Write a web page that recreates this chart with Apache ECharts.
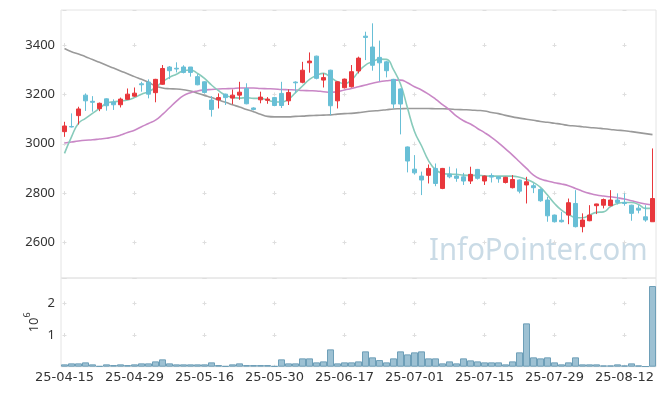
<!DOCTYPE html>
<html><head><meta charset="utf-8">
<script src="https://cdn.jsdelivr.net/npm/echarts@6/dist/echarts.min.js"></script>
<style>html,body{margin:0;padding:0;background:#fff}#c{width:665px;height:396px}</style>
</head><body><div id="c"></div>
<script>
const dates = ['25-04-15','25-04-16','25-04-17','25-04-18','25-04-21','25-04-22','25-04-23','25-04-24','25-04-25','25-04-28',
'25-04-29','25-04-30','25-05-02','25-05-07','25-05-08','25-05-09','25-05-12','25-05-13','25-05-14','25-05-15',
'25-05-16','25-05-19','25-05-20','25-05-21','25-05-22','25-05-23','25-05-26','25-05-27','25-05-28','25-05-29',
'25-05-30','25-06-02','25-06-04','25-06-05','25-06-09','25-06-10','25-06-11','25-06-12','25-06-13','25-06-16',
'25-06-17','25-06-18','25-06-19','25-06-20','25-06-23','25-06-24','25-06-25','25-06-26','25-06-27','25-06-30',
'25-07-01','25-07-02','25-07-03','25-07-04','25-07-07','25-07-08','25-07-09','25-07-10','25-07-11','25-07-14',
'25-07-15','25-07-16','25-07-17','25-07-18','25-07-21','25-07-22','25-07-23','25-07-24','25-07-25','25-07-28',
'25-07-29','25-07-30','25-07-31','25-08-01','25-08-04','25-08-05','25-08-06','25-08-07','25-08-08','25-08-11',
'25-08-12','25-08-13','25-08-14','25-08-18','25-08-19'];

const opens = [3049,3070,3114,3197,3172,3142,3182,3169,3158,3180,
3193,3243,3250,3207,3241,3311,3306,3311,3311,3272,
3251,3177,3178,3201,3185,3197,3224,3145,3178,3176,
3187,3204,3174,3250,3249,3328,3355,3258,3298,3174,
3227,3231,3295,3436,3392,3350,3332,3261,3222,2987,
2897,2869,2872,2900,2819,2877,2869,2866,2849,2896,
2849,2871,2866,2843,2822,2853,2833,2830,2815,2772,
2711,2690,2711,2758,2664,2688,2749,2751,2749,2772,
2762,2751,2739,2704,2684];
const closes = [3072,3068,3141,3174,3168,3164,3154,3158,3181,3201,
3205,3239,3201,3261,3305,3296,3303,3289,3289,3239,
3208,3139,3187,3187,3197,3209,3162,3139,3189,3181,
3155,3155,3208,3247,3298,3335,3265,3268,3154,3251,
3262,3292,3347,3431,3318,3328,3296,3161,3161,2930,
2882,2853,2900,2839,2900,2866,2860,2849,2876,2860,
2869,2865,2858,2864,2855,2808,2846,2822,2769,2708,
2684,2684,2761,2664,2691,2711,2756,2774,2772,2762,
2758,2718,2731,2691,2778];
const lows = [3028,3066,3078,3133,3130,3132,3134,3137,3147,3178,
3190,3211,3184,3168,3239,3262,3289,3285,3272,3237,
3204,3110,3143,3157,3160,3178,3160,3135,3164,3162,
3152,3145,3157,3205,3245,3288,3261,3228,3116,3143,
3224,3228,3285,3339,3296,3254,3269,3143,3038,2884,
2875,2792,2839,2828,2816,2860,2846,2833,2837,2855,
2833,2843,2842,2839,2819,2799,2758,2800,2765,2684,
2681,2681,2674,2661,2641,2686,2715,2738,2747,2754,
2749,2688,2718,2684,2684];
const highs = [3089,3123,3150,3204,3193,3167,3184,3180,3187,3224,
3228,3251,3261,3263,3319,3315,3330,3318,3311,3282,
3253,3193,3204,3203,3220,3251,3245,3148,3211,3189,
3189,3251,3220,3253,3332,3370,3357,3285,3300,3253,
3264,3319,3353,3454,3488,3418,3336,3263,3224,2989,
2954,2887,2916,2920,2902,2907,2900,2882,2907,2898,
2871,2880,2869,2866,2873,2855,2866,2840,2819,2785,
2713,2724,2778,2812,2718,2751,2757,2778,2812,2799,
2799,2753,2751,2751,2981];

const ma5 = [2961,3028,3083,3103,3123,3143,3164,3170,3173,3177,
3187,3201,3211,3228,3251,3269,3282,3296,3299,3285,
3265,3238,3215,3197,3188,3185,3187,3184,3184,3177,
3170,3169,3180,3207,3234,3261,3277,3285,3269,3251,
3244,3258,3292,3319,3332,3343,3342,3300,3242,3145,
3050,2992,2932,2895,2880,2877,2876,2873,2872,2872,
2870,2869,2869,2869,2869,2864,2855,2843,2823,2792,
2758,2731,2714,2701,2700,2711,2722,2724,2745,2758,
2762,2762,2754,2738,2738];
const ma20 = [3003,3007,3011,3014,3016,3019,3022,3027,3035,3046,
3055,3069,3082,3096,3119,3146,3173,3195,3207,3214,
3218,3220,3222,3223,3224,3226,3226,3226,3224,3223,
3222,3220,3219,3218,3216,3215,3214,3211,3209,3211,
3218,3224,3231,3238,3245,3251,3255,3258,3258,3247,
3231,3218,3201,3181,3159,3137,3112,3093,3080,3062,
3045,3026,3004,2979,2954,2927,2900,2873,2857,2849,
2842,2837,2830,2819,2808,2799,2792,2788,2785,2781,
2776,2769,2762,2756,2752];
const ma60 = [3386,3373,3364,3353,3341,3330,3318,3307,3295,3284,
3272,3261,3249,3234,3226,3223,3222,3219,3214,3205,
3196,3187,3177,3168,3158,3149,3139,3130,3120,3111,
3109,3109,3109,3111,3112,3114,3115,3116,3117,3120,
3122,3123,3126,3130,3133,3135,3138,3141,3142,3143,
3143,3143,3143,3142,3142,3141,3139,3138,3137,3135,
3133,3127,3122,3115,3109,3104,3099,3095,3090,3087,
3083,3079,3074,3072,3069,3066,3064,3061,3058,3055,
3053,3049,3045,3041,3037];
const volumes = [0.074,0.105,0.105,0.137,0.074,0.021,0.074,0.053,0.074,0.053,
0.074,0.105,0.105,0.168,0.232,0.105,0.074,0.074,0.074,0.074,
0.074,0.137,0.053,0.021,0.074,0.105,0.053,0.053,0.053,0.053,
0.021,0.232,0.105,0.105,0.263,0.263,0.137,0.168,0.547,0.105,
0.137,0.137,0.168,0.484,0.295,0.210,0.137,0.263,0.484,0.389,
0.453,0.484,0.263,0.263,0.105,0.168,0.105,0.263,0.200,0.168,
0.137,0.137,0.137,0.074,0.168,0.453,1.368,0.295,0.263,0.295,
0.137,0.074,0.137,0.295,0.074,0.074,0.074,0.042,0.042,0.074,
0.042,0.105,0.042,0.011,2.547].map(v => v * 1e6);

const priceMin = 2456, priceMax = 3542, priceStep = 200;
const volMax = 2800000, volStep = 1000000;

// layout
const W = 665, H = 396;
const gLeft = 61, gRight = 9;
const mainTop = 10, mainBottomY = 278;
const volTop = 278, volBottomY = 366.7;
const gW = W - gLeft - gRight;
const catW = gW / dates.length;
const labelEvery = 10;
const crossLen = 4;

const hPeriod = catW * labelEvery;
const hDash = { type: [crossLen, hPeriod - crossLen], dashOffset: -(catW / 2 - crossLen / 2) };
const mainH = mainBottomY - mainTop;
const mPeriod = priceStep / (priceMax - priceMin) * mainH;
const mFirst = (priceMax - Math.floor(priceMax / priceStep) * priceStep) / (priceMax - priceMin) * mainH;
const mDash = { type: [crossLen, mPeriod - crossLen], dashOffset: -(mFirst - crossLen / 2) };
const volH = volBottomY - volTop;
const vPeriod = volStep / volMax * volH;
const vFirst = (volMax - Math.floor(volMax / volStep) * volStep) / volMax * volH;
const vDash = { type: [crossLen, vPeriod - crossLen], dashOffset: -(vFirst - crossLen / 2) };

const gridColor = '#dedede';
const font = 'Noto Sans';
const xFont = 'DejaVu Sans';
const candleData = opens.map((o, i) => [o, closes[i], lows[i], highs[i]]);

const chart = echarts.init(document.getElementById('c'), null, { renderer: 'canvas' });
chart.setOption({
  animation: false,
  backgroundColor: '#fff',
  textStyle: { fontFamily: font },
  grid: [
    { left: gLeft, right: gRight, top: mainTop, height: mainH, show: true, borderColor: '#e4e4e4', borderWidth: 1, backgroundColor: 'transparent' },
    { left: gLeft, right: gRight, top: volTop, height: volH, show: true, borderColor: '#e4e4e4', borderWidth: 1, backgroundColor: 'transparent' }
  ],
  graphic: [{
    type: 'text', left: 429, top: 236, z: 0, silent: true, scaleX: 0.977,
    style: { text: 'InfoPointer.com', fontSize: 30, fontFamily: font, fill: '#cadbe6' }
  }],
  xAxis: [
    { type: 'category', gridIndex: 0, data: dates, boundaryGap: true,
      axisLine: { show: false }, axisTick: { show: false }, axisLabel: { show: false },
      splitLine: { show: true, interval: labelEvery - 1, alignWithLabel: true, lineStyle: Object.assign({ color: gridColor, width: 1 }, mDash) } },
    { type: 'category', gridIndex: 1, data: dates, boundaryGap: true,
      axisLine: { show: false }, axisTick: { show: false },
      axisLabel: { interval: labelEvery - 1, fontSize: 13, color: '#333', margin: 4, fontFamily: xFont },
      splitLine: { show: true, interval: labelEvery - 1, alignWithLabel: true, lineStyle: Object.assign({ color: gridColor, width: 1 }, vDash) } }
  ],
  yAxis: [
    { type: 'value', gridIndex: 0, min: priceMin, max: priceMax, minInterval: priceStep, maxInterval: priceStep, scale: true,
      axisLine: { show: false }, axisTick: { show: false },
      axisLabel: { fontSize: 13, color: '#333', margin: 6, showMinLabel: false, showMaxLabel: false, fontFamily: font,
        formatter: v => String(v) },
      splitLine: { show: true, lineStyle: Object.assign({ color: gridColor, width: 1 }, hDash) } },
    { type: 'value', gridIndex: 1, min: 0, max: volMax, interval: volStep,
      axisLine: { show: false }, axisTick: { show: false },
      axisLabel: { fontSize: 13, color: '#333', margin: 6, showMinLabel: false, showMaxLabel: false, fontFamily: font,
        formatter: v => String(v / 1e6) },
      splitLine: { show: true, lineStyle: Object.assign({ color: gridColor, width: 1 }, hDash) },
      name: '{b|10}{s|6}', nameLocation: 'middle', nameRotate: 90, nameGap: 20, nameMoveOverlap: false,
      nameTextStyle: { rich: {
        b: { fontSize: 13, color: '#333', fontFamily: font, verticalAlign: 'bottom', lineHeight: 18 },
        s: { fontSize: 9, color: '#333', fontFamily: font, verticalAlign: 'top', lineHeight: 18 } } } }
  ],
  series: [
    { type: 'line', name: 'MA60', xAxisIndex: 0, yAxisIndex: 0, data: ma60, smooth: true, showSymbol: false,
      lineStyle: { color: '#9a9a9a', width: 1.6 }, z: 2 },
    { type: 'line', name: 'MA20', xAxisIndex: 0, yAxisIndex: 0, data: ma20, smooth: true, showSymbol: false,
      lineStyle: { color: '#c987c6', width: 1.6 }, z: 2 },
    { type: 'line', name: 'MA5', xAxisIndex: 0, yAxisIndex: 0, data: ma5, smooth: true, showSymbol: false,
      lineStyle: { color: '#88cbbb', width: 1.6 }, z: 2 },
    { type: 'candlestick', xAxisIndex: 0, yAxisIndex: 0, data: candleData, barWidth: 4, z: 3,
      itemStyle: { color: '#e8373c', color0: '#68bfd6', borderColor: '#e8373c', borderColor0: '#68bfd6', borderWidth: 1 } },
    { type: 'bar', xAxisIndex: 1, yAxisIndex: 1, data: volumes, barCategoryGap: '0%',
      itemStyle: { color: '#9dc1d3', borderColor: '#6e9fb8', borderWidth: 1 } }
  ]
});
</script></body></html>
